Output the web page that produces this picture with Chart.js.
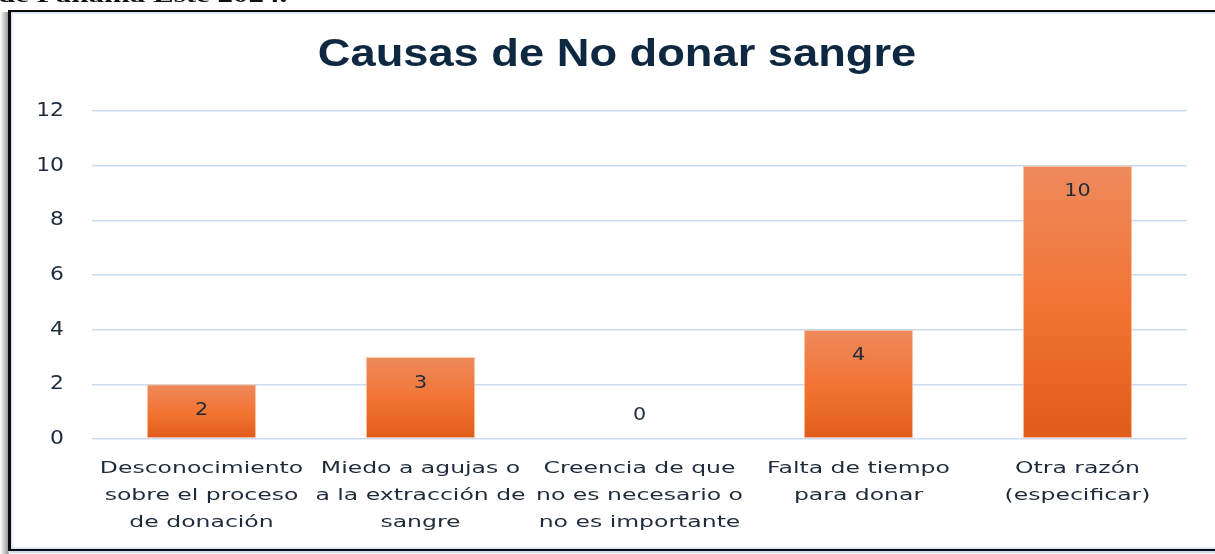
<!DOCTYPE html>
<html>
<head>
<meta charset="utf-8">
<script src="https://cdn.jsdelivr.net/npm/chart.js@4.4.1/dist/chart.umd.min.js"></script>
<style>
  html, body { margin: 0; padding: 0; background: #ffffff; overflow: hidden; }
  #wrap { position: relative; width: 1215px; height: 554px; overflow: hidden; }
  #c { position: absolute; left: 0; top: 0; display: block; z-index: 1; }
  #cut { position: absolute; left: -2px; top: -16px; font: bold 20px "Liberation Serif", serif; color: #111;
         transform: scaleX(1.55); transform-origin: left top; white-space: nowrap; z-index: 2; }
</style>
</head>
<body>
<div id="wrap">
  <canvas id="c" width="1215" height="554"></canvas>
  <div id="cut">de Panamá Este 2024.</div>
</div>
<script>
// ---- data ----
const chartTitle = "Causas de No donar sangre";
const categories = [
  ["Desconocimiento", "sobre el proceso", "de donación"],
  ["Miedo a agujas o", "a la extracción de", "sangre"],
  ["Creencia de que", "no es necesario o", "no es importante"],
  ["Falta de tiempo", "para donar"],
  ["Otra razón", "(especificar)"]
];
const values = [2, 3, 0, 4, 10];
const yTicks = [0, 2, 4, 6, 8, 10, 12];

// ---- helpers ----
function stretchText(ctx, text, x, y, font, color, sx, align) {
  ctx.save();
  ctx.font = font;
  ctx.fillStyle = color;
  ctx.textBaseline = 'middle';
  ctx.textAlign = 'left';
  const w = ctx.measureText(text).width * sx;
  let left = x;
  if (align === 'center') left = x - w / 2;
  else if (align === 'right') left = x - w;
  ctx.translate(left, y);
  ctx.scale(sx, 1);
  ctx.fillText(text, 0, 0);
  ctx.restore();
}

const framePlugin = {
  id: 'frame',
  beforeDraw(chart) {
    const ctx = chart.ctx;
    ctx.save();
    ctx.fillStyle = '#ffffff';
    ctx.fillRect(0, 0, chart.width, chart.height);
    const g = ctx.createLinearGradient(0, 0, 9, 0);
    g.addColorStop(0, 'rgba(0,0,0,0)');
    g.addColorStop(1, 'rgba(0,0,0,0.45)');
    ctx.fillStyle = g;
    ctx.fillRect(0, 12, 9, 542);
    ctx.fillStyle = '#0b0b0b';
    ctx.fillRect(8, 10, chart.width - 8, 2);
    ctx.fillRect(8, 10, 3, 542);
    ctx.fillRect(8, 549, chart.width - 8, 2);
    ctx.fillStyle = '#cfe0f3';
    ctx.fillRect(11, 12, chart.width - 11, 1.5);
    ctx.fillRect(11, 12, 1.5, 537);
    ctx.fillRect(11, 547.5, chart.width - 11, 1.5);
    ctx.fillRect(8, 551, chart.width - 8, 2);
    ctx.restore();
  }
};

const textPlugin = {
  id: 'texts',
  afterDraw(chart) {
    const ctx = chart.ctx;
    const ys = chart.scales.y, xs = chart.scales.x;
    stretchText(ctx, chartTitle, 617, 55, 'bold 39px "Liberation Sans", Arial, sans-serif', '#0e2841', 1.16, 'center');
    yTicks.forEach(v => {
      stretchText(ctx, String(v), 64, ys.getPixelForValue(v), '19px "DejaVu Sans", sans-serif', '#1e2b3b', 1.15, 'right');
    });
    categories.forEach((lines, i) => {
      const cx = xs.getPixelForTick(i);
      lines.forEach((ln, j) => {
        stretchText(ctx, ln, cx, chart.chartArea.bottom + 30 + j * 27, '16px "DejaVu Sans", sans-serif', '#1e2b3b', 1.47, 'center');
      });
    });
    const meta = chart.getDatasetMeta(0);
    meta.data.forEach((bar, i) => {
      const v = values[i];
      const y = v > 0 ? bar.y + 26 : bar.base - 24;
      stretchText(ctx, String(v), bar.x, y, '18px "DejaVu Sans", sans-serif', '#1e2b3b', 1.15, 'center');
    });
  }
};

function barFill(c) {
  const chart = c.chart;
  if (!chart.chartArea || c.raw === undefined) return '#f07030';
  const ys = chart.scales.y;
  const top = ys.getPixelForValue(c.raw), base = ys.getPixelForValue(0);
  if (Math.abs(base - top) < 1) return '#f07030';
  const g = chart.ctx.createLinearGradient(0, top, 0, base);
  g.addColorStop(0, '#ee8a5c');
  g.addColorStop(0.55, '#f27230');
  g.addColorStop(1, '#df5d1b');
  return g;
}

new Chart(document.getElementById('c'), {
  type: 'bar',
  data: {
    labels: categories,
    datasets: [{
      data: values,
      backgroundColor: barFill,
      borderColor: 'rgba(250,200,170,0.9)',
      borderWidth: 1,
      borderSkipped: false,
      categoryPercentage: 1,
      barPercentage: 0.5
    }]
  },
  options: {
    responsive: false,
    animation: false,
    devicePixelRatio: 1,
    layout: { padding: { top: 111, right: 28, bottom: 0, left: 0 } },
    plugins: { legend: { display: false }, title: { display: false }, tooltip: { enabled: false } },
    scales: {
      y: {
        min: 0, max: 12,
        ticks: { stepSize: 2, display: false },
        grid: { color: '#c9dcf1', lineWidth: 1.6, drawTicks: false },
        border: { display: false },
        afterFit(s) { s.width = 92; }
      },
      x: {
        ticks: { display: false },
        grid: { display: false, drawTicks: false },
        border: { display: false },
        afterFit(s) { s.height = 115; }
      }
    }
  },
  plugins: [framePlugin, textPlugin]
});
</script>
</body>
</html>
